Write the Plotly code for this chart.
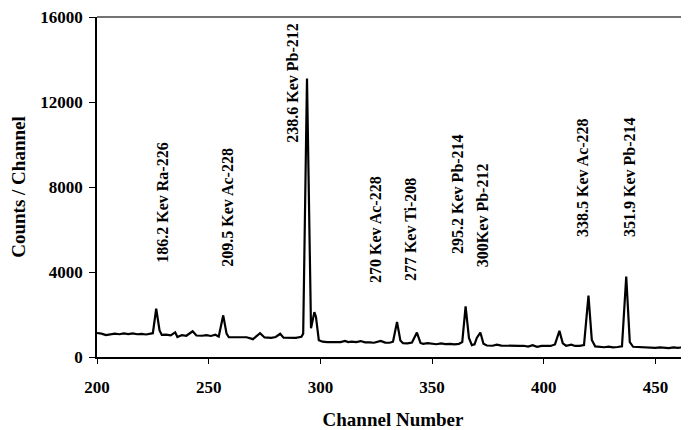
import plotly.graph_objects as go

channels = [200, 202, 204, 206, 208, 210, 212, 214, 216, 218, 220, 222, 224, 225, 226.5, 228, 229,
            231, 233, 235, 236, 238, 240, 242.8, 244.5, 247, 249, 251, 253, 254.5, 256.5, 258, 259,
            262, 265, 267, 269.8, 273, 275, 278, 280, 282, 283.5, 286, 289, 291.5, 292.3, 294, 295.8,
            297.3, 298, 299.3, 301, 303, 305, 307, 309, 311, 312.5, 314, 316, 318, 320, 322, 324,
            327, 329, 331, 332.5, 334.3, 335.8, 337, 339, 341, 343.2, 344.8, 346, 348, 350, 352, 354,
            356, 358, 360, 362, 363.5, 365, 366.5, 367.8, 369, 370, 371.6, 373, 374.5, 377, 379, 381,
            383, 385, 387, 389, 391, 393, 395, 397, 399, 401, 403, 405, 407, 408.5, 410, 412.3, 414,
            416, 418, 420, 421.5, 423, 425, 427, 429, 431, 433, 435, 436.9, 438.5, 440, 442, 444, 446,
            448, 450, 452, 454, 456, 458, 460, 462.5]
counts = [1130, 1100, 1030, 1080, 1100, 1070, 1110, 1080, 1110, 1070, 1090, 1060, 1080, 1120, 2270, 1250, 1040,
          1050, 1020, 1160, 940, 1030, 1000, 1210, 1010, 1000, 1030, 990, 1050, 960, 1960, 1100, 930,
          930, 960, 930, 840, 1120, 920, 900, 940, 1090, 910, 920, 900, 950, 1100, 13100, 1350,
          2110, 1900, 790, 720, 700, 710, 690, 700, 760, 700, 720, 700, 750, 690, 690, 670,
          760, 680, 670, 720, 1650, 780, 650, 640, 680, 1150, 660, 620, 650, 610, 600, 640,
          610, 620, 590, 620, 700, 2380, 900, 560, 600, 900, 1150, 620, 540, 530, 580, 540,
          530, 550, 510, 520, 530, 490, 560, 480, 520, 530, 520, 590, 1230, 640, 530, 580, 520,
          520, 560, 2890, 800, 500, 470, 460, 490, 450, 470, 500, 3790, 700, 480, 470, 440, 460,
          440, 430, 450, 440, 420, 450, 430, 460]

peak_labels = ["186.2 Kev Ra-226", "209.5 Kev Ac-228", "238.6 Kev Pb-212", "270 Kev Ac-228",
               "277 Kev Ti-208", "295.2 Kev Pb-214", "300Kev Pb-212", "338.5 Kev Ac-228",
               "351.9 Kev Pb-214"]
label_x = [229.5, 258.6, 287.7, 324.4, 340.1, 361.6, 372.3, 417.1, 438.1]
label_y = [7254, 7068, 12899, 6018, 6018, 7674, 6671, 8467, 8467]

x_ticks = [200, 250, 300, 350, 400, 450]
y_ticks = [0, 4000, 8000, 12000, 16000]
y_tick_text = ["0", "4000", "8000", "12000", "16000"]

serif = "Liberation Serif"

fig = go.Figure()
fig.add_trace(go.Scatter(x=channels, y=counts, mode="lines",
                         line=dict(color="black", width=2.2), showlegend=False))

for t, xx, yy in zip(peak_labels, label_x, label_y):
    fig.add_annotation(x=xx, y=yy, text=t, textangle=-90, showarrow=False,
                       font=dict(family=serif, size=16, color="black", weight="bold"))

fig.add_shape(type="line", xref="paper", yref="paper", x0=0, x1=1, y0=1, y1=1,
              line=dict(color="#444444", width=1.5))

fig.update_layout(
    width=681, height=422,
    margin=dict(l=89, r=0, t=6, b=73),
    paper_bgcolor="white", plot_bgcolor="white",
    font=dict(family=serif, color="black"),
    xaxis=dict(range=[200, 465], tickvals=x_ticks, ticks="outside", ticklen=5,
               ticklabelstandoff=9,
               tickcolor="black", showline=True, linecolor="black", linewidth=1.5,
               showgrid=False, zeroline=False,
               tickfont=dict(family=serif, size=17, weight="bold"),
               title=dict(text="Channel Number", standoff=17,
                          font=dict(family=serif, size=19, weight="bold"))),
    yaxis=dict(range=[0, 16000], tickvals=y_ticks, ticktext=y_tick_text,
               ticks="outside", ticklen=6, ticklabeloverflow="allow",
               ticklabelstandoff=3,
               tickcolor="black", showline=True, linecolor="black", linewidth=1.5,
               showgrid=False, zeroline=False,
               tickfont=dict(family=serif, size=17, weight="bold"),
               title=dict(text="Counts / Channel", standoff=12,
                          font=dict(family=serif, size=19, weight="bold"))),
)

fig.write_html("out.html")
